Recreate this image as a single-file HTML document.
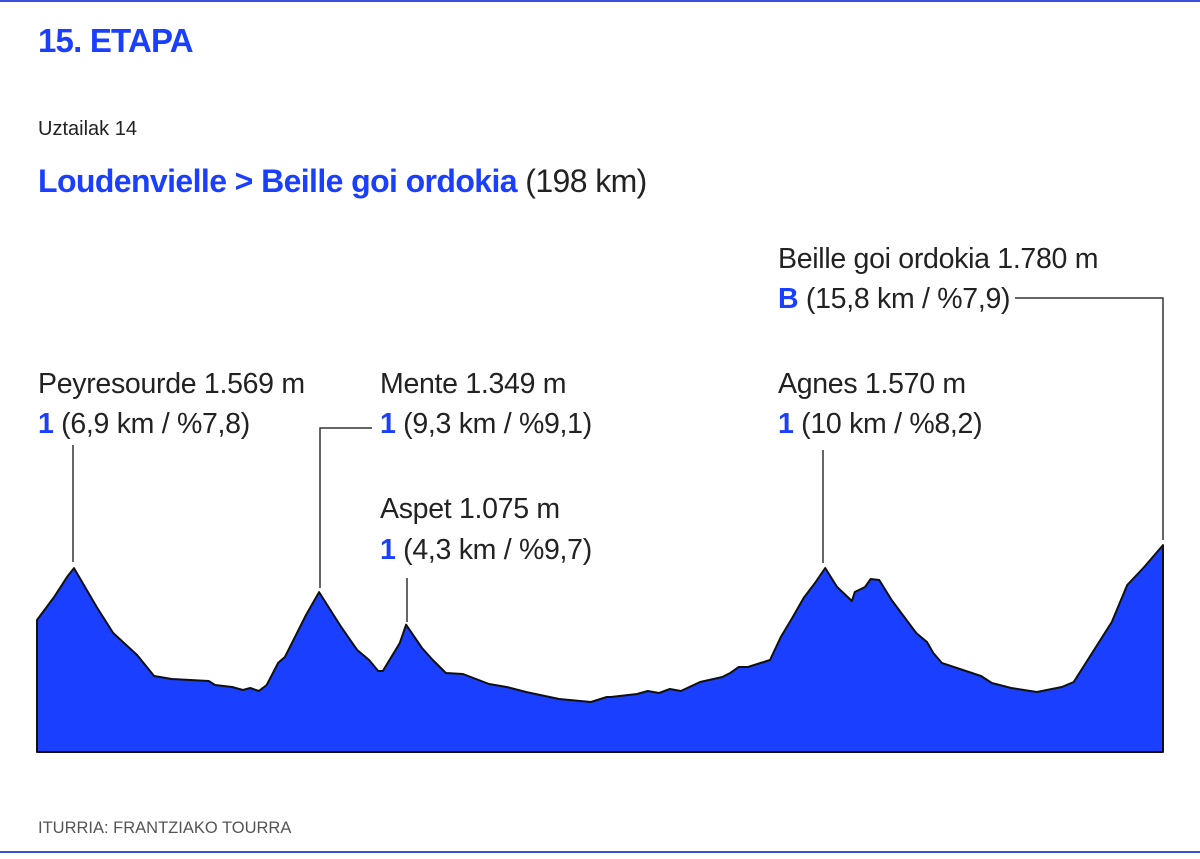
<!DOCTYPE html>
<html><head><meta charset="utf-8"><style>
body{margin:0;background:#fff;}
svg text{font-family:"Liberation Sans",sans-serif;}
</style></head><body>
<svg width="1200" height="854" viewBox="0 0 1200 854">
<line x1="0" y1="1" x2="1200" y2="1" stroke="#3a4fd8" stroke-width="2"/>
<line x1="0" y1="852" x2="1200" y2="852" stroke="#3a4fd8" stroke-width="2"/>
<text x="38" y="52" font-size="33" fill="#1a3fff" font-weight="bold" letter-spacing="-0.8">15. ETAPA</text>
<text x="38" y="135" font-size="20" fill="#222">Uztailak 14</text>
<text x="38" y="192" font-size="32" fill="#222" letter-spacing="-0.6"><tspan fill="#1a3fff" font-weight="bold">Loudenvielle &gt; Beille goi ordokia</tspan> (198 km)</text>
<g id="profile"></g>
<g id="labels" font-size="28.5" fill="#222" letter-spacing="-0.3">
<text x="38" y="393">Peyresourde 1.569 m</text>
<text x="38" y="433"><tspan fill="#1a3fff" font-weight="bold">1</tspan> (6,9 km / %7,8)</text>
<text x="380" y="393">Mente 1.349 m</text>
<text x="380" y="433"><tspan fill="#1a3fff" font-weight="bold">1</tspan> (9,3 km / %9,1)</text>
<text x="380" y="518">Aspet 1.075 m</text>
<text x="380" y="559"><tspan fill="#1a3fff" font-weight="bold">1</tspan> (4,3 km / %9,7)</text>
<text x="778" y="393">Agnes 1.570 m</text>
<text x="778" y="433"><tspan fill="#1a3fff" font-weight="bold">1</tspan> (10 km / %8,2)</text>
<text x="778" y="268">Beille goi ordokia 1.780 m</text>
<text x="778" y="308"><tspan fill="#1a3fff" font-weight="bold">B</tspan> (15,8 km / %7,9)</text>
</g>
<g stroke="#333" stroke-width="1.5" fill="none">
<polyline points="73,445 73,562"/>
<polyline points="372,428 320,428 320,588"/>
<polyline points="407,578 407,622"/>
<polyline points="823,450 823,563"/>
<polyline points="1015,298 1163,298 1163,540"/>
</g>
<text x="38" y="833" font-size="16.5" fill="#555">ITURRIA: FRANTZIAKO TOURRA</text>
</svg>
<script>
const distanceKm=[0,3.0,5.3,6.5,10.5,13.4,17.6,20.6,23.7,30.2,31.3,34.3,36.2,37.5,39.0,40.4,42.4,43.6,47.3,49.6,53.5,56.3,58.4,60.0,60.8,63.8,64.9,67.7,69.6,71.9,74.9,79.5,82.6,86.0,91.8,97.4,100.2,100.9,105.5,107.4,109.4,111.3,113.2,116.6,120.5,121.9,123.4,125.0,128.9,130.8,132.8,134.8,136.8,138.6,140.7,143.3,143.8,145.6,146.6,148.1,150.3,154.6,156.5,157.6,159.1,166.0,167.9,171.3,175.8,180.2,182.3,186.2,189.0,191.7,194.7,198];
const elevationM=[1093,1304,1488,1569,1212,974,772,579,552,533,497,478,451,469,442,497,699,754,1139,1349,1029,818,726,625,625,882,1050,836,726,607,598,506,478,432,368,341,387,387,414,442,423,460,442,524,570,607,662,662,726,937,1111,1295,1432,1570,1396,1267,1350,1396,1469,1460,1276,974,891,790,699,579,515,469,432,478,524,845,1075,1414,1579,1780];
const kmMax=198, elevMin=-118;
function xScale(km){return 37+km/kmMax*1126;}
function yScale(e){return 752-(e-elevMin)*0.109;}
const g=document.getElementById('profile');
let d='M'+xScale(0)+','+yScale(elevMin);
for(let i=0;i<distanceKm.length;i++){d+=' L'+xScale(distanceKm[i]).toFixed(1)+','+yScale(elevationM[i]).toFixed(1);}
d+=' L'+xScale(kmMax)+','+yScale(elevMin)+' Z';
const p=document.createElementNS('http://www.w3.org/2000/svg','path');
p.setAttribute('d',d);p.setAttribute('fill','#1a3fff');p.setAttribute('stroke','#111');p.setAttribute('stroke-width','2');p.setAttribute('stroke-linejoin','round');


g.appendChild(p);
</script>
</body></html>
